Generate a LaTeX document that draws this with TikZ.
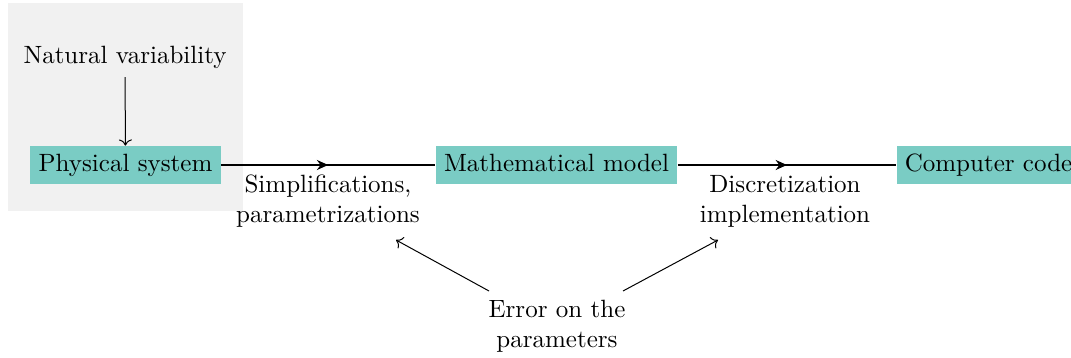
\documentclass[tikz,border=0pt]{standalone}
\usetikzlibrary{arrows.meta,decorations.markings}
\definecolor{boxfill}{RGB}{122,204,196}
\definecolor{bgfill}{RGB}{241,241,241}
\tikzset{
  boxnode/.style={fill=boxfill, inner sep=0.3333em, text height=1.55ex, text depth=0.4ex},
  lbl/.style={align=center, inner sep=0pt},
  flow/.style={line width=1.1pt, postaction={decorate}, decoration={markings, mark=at position 0.5 with {\arrow{Stealth[length=4.5pt,width=4pt]}}}},
  thin arrow/.style={->, >=To}
}
\begin{document}
\begin{tikzpicture}[x=0.4pt, y=-0.4pt]
\useasboundingbox (0,0) rectangle (1071,358);
\clip (0,0) rectangle (1071,358);
\fill[bgfill] (8,3) rectangle (243,211);
\node (nat) at (125,57) {Natural variability};
\node[boxnode] (phys) at (125.5,165) {Physical system};
\node[boxnode] (math) at (556.5,165) {Mathematical model};
\node[boxnode, anchor=west] (code) at (896,165) {Computer code};
\node[lbl] (simp) at (328,201) {Simplifications,\\parametrizations};
\node[lbl] (disc) at (785,201) {Discretization\\implementation};
\node[lbl] (err) at (557,326) {Error on the\\parameters};
\coordinate (a1) at (396,240);
\coordinate (a2) at (718,240);
\coordinate (e1) at (489,291);
\coordinate (e2) at (623,291);
\draw[thin arrow] (nat) -- (phys);
\draw[flow] (phys) -- (math);
\draw[flow] (math) -- (code);
\draw[thin arrow] (e1) -- (a1);
\draw[thin arrow] (e2) -- (a2);
\end{tikzpicture}
\end{document}
